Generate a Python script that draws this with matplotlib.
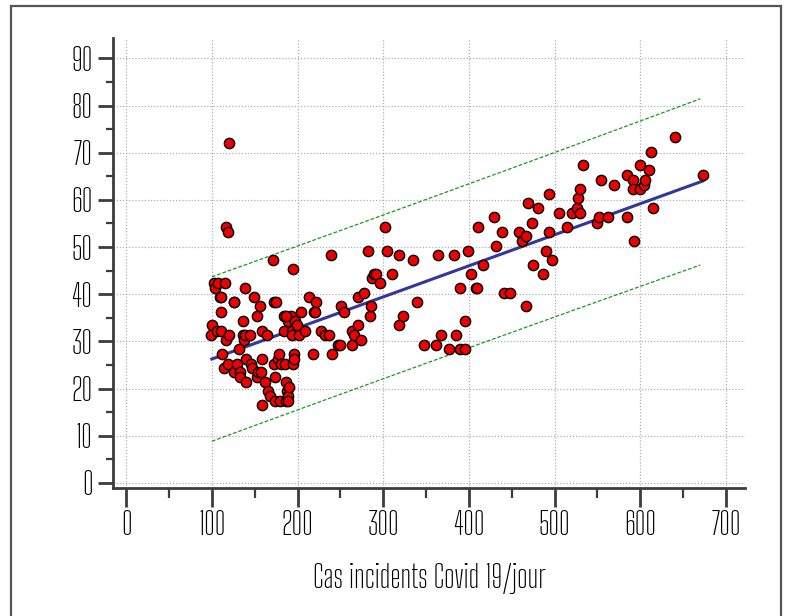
import numpy as np
import matplotlib
matplotlib.use("Agg")
import matplotlib.pyplot as plt
from matplotlib.patches import Rectangle
from matplotlib.ticker import MultipleLocator

plt.rcParams['font.family'] = ['Big Shoulders Text', 'DejaVu Sans']

# daily incident Covid-19 cases (x) vs the y variable
cas = [99, 100, 102, 104, 107, 106, 109, 111, 111, 111, 112, 115, 114, 117, 119, 120,
       116, 120, 119, 126, 126, 129, 132, 133, 133, 136, 136, 138, 139, 139, 140, 140,
       145, 146, 147, 149, 153, 153, 156, 154, 157, 158, 158, 158, 162, 164, 165, 168,
       171, 173, 173, 174, 174, 177, 178, 180, 181, 184, 184, 185, 187, 187, 188, 189,
       189, 190, 189, 192, 193, 193, 195, 195, 196, 196, 197, 199, 202, 204, 209, 213,
       218, 219, 222, 227, 232, 237, 239, 240, 247, 249, 251, 254, 263, 263, 266, 270,
       271, 274, 277, 282, 284, 286, 287, 289, 292, 296, 302, 304, 310, 318, 319, 323,
       335, 339, 348, 362, 364, 368, 377, 383, 385, 390, 390, 395, 396, 399, 402, 408,
       410, 411, 417, 429, 432, 439, 441, 448, 458, 462, 467, 467, 469, 474, 475, 481,
       487, 490, 493, 494, 497, 505, 514, 520, 526, 527, 530, 530, 533, 549, 552, 554,
       562, 569, 584, 585, 591, 591, 593, 600, 600, 604, 606, 610, 612, 615, 640, 673,
       220, 126, 175, 186]
valeurs = [31.4, 33.4, 42.3, 41.4, 42.3, 32.2, 39.4, 39.4, 32.2, 36.2, 27.4, 42.3, 24.3, 54.3, 53.2, 72.1,
           30.2, 31.3, 25.3, 38.3, 23.4, 25.3, 28.3, 23.4, 22.5, 31.3, 34.3, 30.2, 31.3, 41.4, 21.4, 26.3,
           31.3, 25.3, 24.3, 39.4, 35.4, 22.5, 37.4, 23.4, 23.4, 32.2, 26.3, 16.5, 21.4, 31.3, 19.4, 18.4,
           47.2, 38.3, 25.3, 22.5, 17.3, 26.3, 27.4, 17.3, 25.3, 35.4, 32.2, 25.3, 17.3, 21.4, 19.4, 18.4,
           17.3, 20.4, 34.3, 35.4, 32.2, 31.3, 25.3, 45.3, 27.4, 26.3, 34.3, 33.4, 31.3, 36.2, 32.2, 39.4,
           27.4, 36.2, 38.3, 32.2, 31.3, 31.3, 48.3, 27.4, 29.3, 29.3, 37.4, 36.2, 32.2, 29.3, 31.3, 33.4,
           39.4, 30.2, 40.2, 49.2, 35.4, 37.4, 43.4, 44.3, 44.3, 42.3, 54.3, 49.2, 44.3, 48.3, 33.4, 35.4,
           47.2, 38.3, 29.3, 29.3, 48.3, 31.3, 28.3, 48.3, 31.3, 41.4, 28.3, 28.3, 34.3, 49.2, 44.3, 41.4,
           41.4, 54.3, 46.3, 56.3, 50.3, 53.2, 40.2, 40.2, 53.2, 51.2, 52.3, 37.6, 59.3, 55.2, 46.3, 58.3,
           44.3, 49.2, 61.2, 53.2, 47.2, 57.2, 54.3, 57.2, 58.3, 60.3, 57.2, 62.3, 67.3, 55.2, 56.3, 64.3,
           56.3, 63.2, 65.3, 56.3, 64.3, 62.3, 51.2, 67.3, 62.3, 63.2, 64.3, 66.3, 70.1, 58.3, 73.3, 65.3,
           36.3, 38.3, 38.3, 35.4]

# regression line as drawn in the reference
fit_intercept = 19.66
fit_slope = 0.0659
band_range = [100, 670]

x_ticks = [0, 100, 200, 300, 400, 500, 600, 700]
y_ticks = [0, 10, 20, 30, 40, 50, 60, 70, 80, 90]
x_label = "Cas incidents Covid 19/jour"

x = np.array(cas, dtype=float)
y = np.array(valeurs, dtype=float)

# 95% prediction band around the line
n = len(x)
resid = y - (fit_intercept + fit_slope * x)
s = np.sqrt(np.sum(resid ** 2) / (n - 2))
sxx = np.sum((x - x.mean()) ** 2)
xb = np.linspace(band_range[0], band_range[1], 12)
half = 1.97 * s * np.sqrt(1 + 1 / n + (xb - x.mean()) ** 2 / sxx)
xl = np.array([100, x.max()])

fig = plt.figure(figsize=(7.89, 6.16), dpi=100)
fig.patches.append(Rectangle((11 / 789, -0.05), (781 - 11) / 789, 1.05 - 6.5 / 616,
                             transform=fig.transFigure, fill=False,
                             ec='#555555', lw=1.6))

ax = fig.add_axes([0.1436, 0.2078, 0.8004, 0.7302])
ax.set_xlim(-15, 722)
ax.set_ylim(-1.1, 94.3)

ax.grid(True, which='major', color='#b0b0b0', linestyle=(0, (1, 1.5)), linewidth=0.9)
ax.set_axisbelow(True)

ax.plot(xb, fit_intercept + fit_slope * xb + half, color='#1a9a1a', ls=(0, (3, 1.5)), lw=0.9)
ax.plot(xb, fit_intercept + fit_slope * xb - half, color='#1a9a1a', ls=(0, (3, 1.5)), lw=0.9)
ax.plot(xl, fit_intercept + fit_slope * xl, color='#3535a0', lw=2.2)
ax.scatter(x, y, s=55, c='#ee0000', edgecolors='black', linewidths=1.0, zorder=3)

for side in ['top', 'right']:
    ax.spines[side].set_visible(False)
for side in ['left', 'bottom']:
    ax.spines[side].set_color('#3c3c3c')
    ax.spines[side].set_linewidth(2.0)

ax.set_xticks(x_ticks)
ax.set_yticks(y_ticks)
ax.xaxis.set_minor_locator(MultipleLocator(50))
ax.yaxis.set_minor_locator(MultipleLocator(5))
ax.tick_params(which='major', length=11, width=2, color='#3c3c3c', labelsize=22, pad=4)
ax.tick_params(which='minor', length=5, width=1.6, color='#3c3c3c')
ax.tick_params(axis='x', which='major', length=14, pad=2)
ax.tick_params(axis='x', which='minor', length=7)

ax.set_xlabel(x_label, fontsize=22, labelpad=16)

fig.savefig("out.png", dpi=100)
